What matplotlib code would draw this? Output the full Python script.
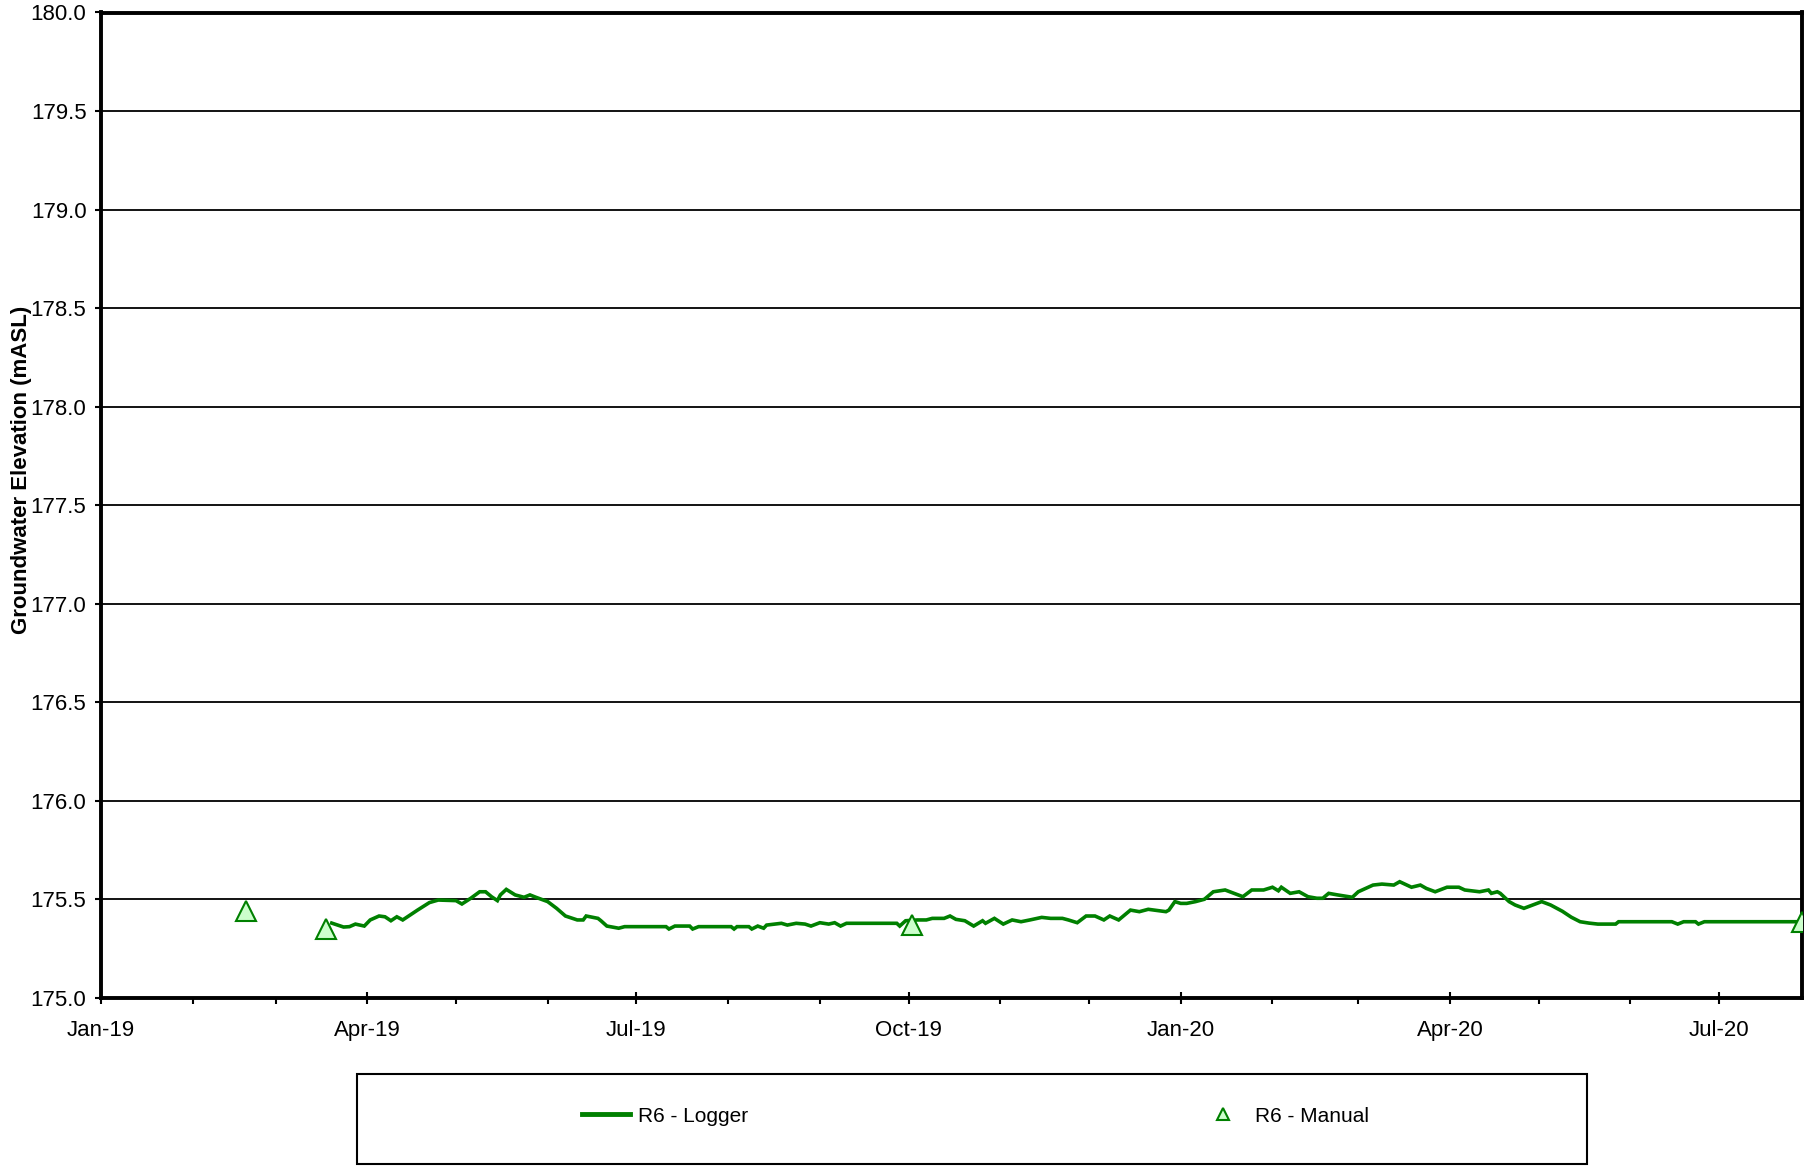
import matplotlib
matplotlib.use("Agg")
import matplotlib.pyplot as plt
import matplotlib.dates as mdates
from matplotlib.lines import Line2D
from matplotlib.patches import Rectangle
import numpy as np
import pandas as pd

plt.rcParams['font.family'] = ['Liberation Sans', 'DejaVu Sans']

# ---------------- data ----------------
logger_dates = [
    "2019-03-20", "2019-03-24", "2019-03-26", "2019-03-28", "2019-03-31", "2019-04-02",
    "2019-04-05", "2019-04-07", "2019-04-09", "2019-04-11", "2019-04-13", "2019-04-18",
    "2019-04-22", "2019-04-25", "2019-05-01", "2019-05-03", "2019-05-06", "2019-05-09",
    "2019-05-11", "2019-05-13", "2019-05-15", "2019-05-16", "2019-05-18", "2019-05-21",
    "2019-05-24", "2019-05-26", "2019-05-28", "2019-06-01", "2019-06-04", "2019-06-07",
    "2019-06-11", "2019-06-13", "2019-06-14", "2019-06-18", "2019-06-19", "2019-06-21",
    "2019-06-25", "2019-06-27", "2019-07-11", "2019-07-12", "2019-07-14", "2019-07-19",
    "2019-07-20", "2019-07-22", "2019-08-02", "2019-08-03", "2019-08-04", "2019-08-08",
    "2019-08-09", "2019-08-11", "2019-08-13", "2019-08-14", "2019-08-19", "2019-08-21",
    "2019-08-24", "2019-08-27", "2019-08-29", "2019-09-01", "2019-09-04", "2019-09-06",
    "2019-09-08", "2019-09-10", "2019-09-27", "2019-09-28", "2019-09-30", "2019-10-04",
    "2019-10-07", "2019-10-09", "2019-10-13", "2019-10-15", "2019-10-17", "2019-10-20",
    "2019-10-23", "2019-10-26", "2019-10-27", "2019-10-30", "2019-11-02", "2019-11-05",
    "2019-11-08", "2019-11-11", "2019-11-15", "2019-11-18", "2019-11-22", "2019-11-24",
    "2019-11-27", "2019-11-30", "2019-12-03", "2019-12-06", "2019-12-08", "2019-12-11",
    "2019-12-15", "2019-12-18", "2019-12-21", "2019-12-24", "2019-12-27", "2019-12-28",
    "2019-12-30", "2020-01-01", "2020-01-03", "2020-01-06", "2020-01-09", "2020-01-12",
    "2020-01-16", "2020-01-19", "2020-01-22", "2020-01-25", "2020-01-29", "2020-02-01",
    "2020-02-03", "2020-02-04", "2020-02-07", "2020-02-10", "2020-02-13", "2020-02-16",
    "2020-02-18", "2020-02-20", "2020-02-23", "2020-02-28", "2020-03-01", "2020-03-06",
    "2020-03-09", "2020-03-13", "2020-03-15", "2020-03-19", "2020-03-22", "2020-03-24",
    "2020-03-27", "2020-03-31", "2020-04-04", "2020-04-06", "2020-04-11", "2020-04-14",
    "2020-04-15", "2020-04-17", "2020-04-18", "2020-04-21", "2020-04-23", "2020-04-26",
    "2020-04-29", "2020-05-02", "2020-05-05", "2020-05-09", "2020-05-12", "2020-05-15",
    "2020-05-18", "2020-05-21", "2020-05-27", "2020-05-28", "2020-06-15", "2020-06-17",
    "2020-06-19", "2020-06-23", "2020-06-24", "2020-06-26", "2020-07-27",
]
logger_values = [
    175.380, 175.360, 175.362, 175.375, 175.365, 175.396,
    175.416, 175.412, 175.392, 175.412, 175.396, 175.446,
    175.484, 175.497, 175.494, 175.477, 175.506, 175.539,
    175.539, 175.514, 175.494, 175.523, 175.551, 175.523,
    175.511, 175.523, 175.511, 175.489, 175.455, 175.416,
    175.396, 175.396, 175.416, 175.404, 175.392, 175.365,
    175.354, 175.362, 175.362, 175.350, 175.365, 175.365,
    175.350, 175.362, 175.362, 175.350, 175.362, 175.362,
    175.350, 175.365, 175.354, 175.370, 175.379, 175.370,
    175.379, 175.375, 175.365, 175.382, 175.375, 175.382,
    175.365, 175.379, 175.379, 175.365, 175.392, 175.396,
    175.396, 175.404, 175.404, 175.416, 175.399, 175.392,
    175.365, 175.392, 175.379, 175.404, 175.375, 175.396,
    175.387, 175.396, 175.409, 175.404, 175.404, 175.396,
    175.382, 175.416, 175.416, 175.396, 175.416, 175.396,
    175.446, 175.438, 175.450, 175.444, 175.438, 175.446,
    175.489, 175.480, 175.480, 175.489, 175.501, 175.539,
    175.548, 175.531, 175.514, 175.548, 175.548, 175.562,
    175.544, 175.562, 175.531, 175.539, 175.514, 175.506,
    175.506, 175.531, 175.523, 175.511, 175.539, 175.573,
    175.578, 175.573, 175.590, 175.562, 175.573, 175.556,
    175.539, 175.562, 175.562, 175.548, 175.539, 175.548,
    175.531, 175.539, 175.531, 175.489, 175.472, 175.455,
    175.472, 175.489, 175.472, 175.440, 175.410, 175.387,
    175.380, 175.375, 175.375, 175.387, 175.387, 175.375,
    175.387, 175.387, 175.375, 175.387, 175.387,
]

manual_dates = ["2019-02-19", "2019-03-18", "2019-10-02", "2020-07-29"]
manual_values = [175.44, 175.35, 175.37, 175.385]

series_labels = ["R6 - Logger", "R6 - Manual"]
y_label = "Groundwater Elevation (mASL)"
x_start, x_end = "2019-01-01", "2020-07-29"
y_min, y_max, y_step = 175.0, 180.0, 0.5

# ---------------- figure ----------------
W, H = 1804, 1166
fig = plt.figure(figsize=(W / 100, H / 100), dpi=100)
ax = fig.add_axes([101 / W, 1 - 998 / H, (1802 - 101) / W, (998 - 12.5) / H])

green = "#008000"
ax.plot(pd.to_datetime(logger_dates), logger_values, color=green, lw=2.6,
        solid_joinstyle="miter", zorder=3)
ax.plot(pd.to_datetime(manual_dates), manual_values, linestyle="none", marker="^",
        ms=15, mfc="#ccffcc", mec=green, mew=1.5, zorder=4)

ax.set_xlim(pd.Timestamp(x_start), pd.Timestamp(x_end))
ax.set_ylim(y_min, y_max)
ax.set_yticks(np.arange(y_min, y_max + 0.01, y_step))
ax.yaxis.set_major_formatter(matplotlib.ticker.FormatStrFormatter("%.1f"))
ax.yaxis.grid(True, color="black", lw=1.3)
ax.set_axisbelow(True)

ax.xaxis.set_major_locator(mdates.MonthLocator(bymonth=[1, 4, 7, 10]))
ax.xaxis.set_minor_locator(mdates.MonthLocator())
ax.xaxis.set_major_formatter(mdates.DateFormatter("%b-%y"))

for s in ax.spines.values():
    s.set_linewidth(2.8)
    s.set_color("black")

ax.tick_params(axis="x", which="major", direction="inout", length=9, width=1.5,
               labelsize=16, pad=11)
ax.tick_params(axis="x", which="minor", direction="out", length=4.5, width=1.5)
ax.tick_params(axis="y", which="major", direction="out", length=4.5, width=1.5,
               labelsize=16, pad=6)

ax.set_ylabel(y_label, fontsize=16, fontweight="bold")
ax.yaxis.set_label_coords(-0.0405, 0.536)

# ---------------- legend ----------------
fig.add_artist(Rectangle((357 / W, 1 - 1164 / H), (1587 - 357) / W, 90 / H,
                         transform=fig.transFigure, fill=False, ec="black", lw=1.5))
h1 = Line2D([], [], color=green, lw=3.5)
h2 = Line2D([], [], color=green, linestyle="none", marker="^", ms=8,
            mfc="#ccffcc", mec=green, mew=1.5)
fig.legend(handles=[h1], labels=[series_labels[0]], loc="center left",
           bbox_to_anchor=(582 / W, 1 - 1116 / H), frameon=False, fontsize=15,
           handlelength=2.3, handletextpad=0.38, borderpad=0, borderaxespad=0)
fig.legend(handles=[h2], labels=[series_labels[1]], loc="center left",
           bbox_to_anchor=(1213 / W, 1 - 1116 / H), frameon=False, fontsize=15,
           handlelength=1.0, handletextpad=1.0, borderpad=0, borderaxespad=0)

fig.savefig("out.png", dpi=100)
